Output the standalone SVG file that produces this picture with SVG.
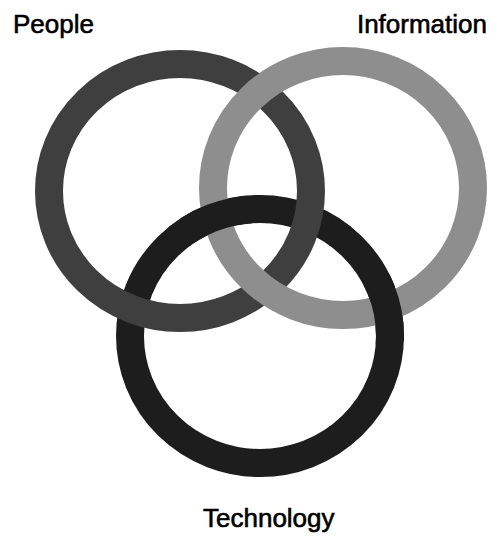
<svg xmlns="http://www.w3.org/2000/svg" width="491" height="536" viewBox="0 0 491 536">
  <style>
    .ring { fill: none; stroke-width: 28; }
    .people { stroke: #3f3f3f; }
    .info { stroke: #8e8e8e; }
    .tech { stroke: #1d1d1d; }
    .label { font-family: "Liberation Sans", Arial, sans-serif; font-size: 26px; fill: #000; stroke: #000; stroke-width: 0.6; }
  </style>
  <defs>
    <clipPath id="techOverInfo">
      <circle cx="217" cy="215" r="36"/>
      <circle cx="386" cy="310" r="36"/>
    </clipPath>
  </defs>
  <rect width="491" height="536" fill="#ffffff"/>
  <g id="technology-ring">
    <ellipse class="ring tech" cx="260" cy="336" rx="130" ry="127"/>
  </g>
  <g id="people-ring">
    <ellipse class="ring people" cx="180" cy="191" rx="131" ry="127"/>
  </g>
  <g id="information-ring">
    <ellipse class="ring info" cx="343" cy="188" rx="130" ry="127"/>
  </g>
  <g id="technology-over">
    <ellipse class="ring tech" cx="260" cy="336" rx="130" ry="127" clip-path="url(#techOverInfo)"/>
  </g>
  <g id="connectors"></g>
  <g id="label-people">
    <text class="label" x="13" y="33">People</text>
  </g>
  <g id="label-information">
    <text class="label" x="487" y="33" text-anchor="end">Information</text>
  </g>
  <g id="label-technology">
    <text class="label" x="203" y="527">Technology</text>
  </g>
</svg>
